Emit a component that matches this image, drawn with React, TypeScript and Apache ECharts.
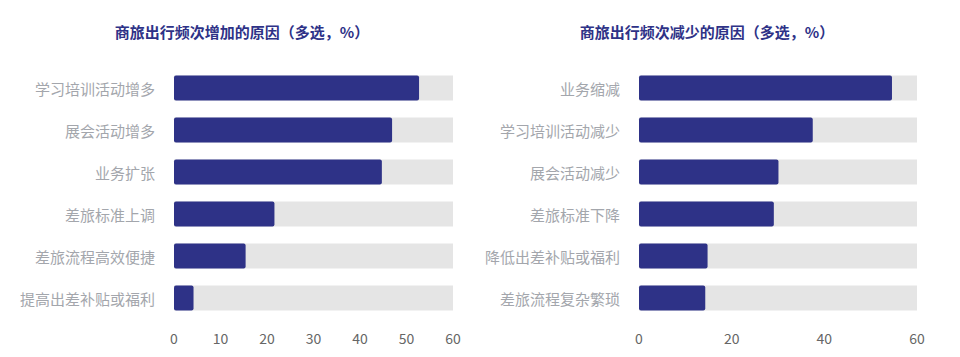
import React, { useEffect, useRef } from "react";
import * as echarts from "echarts";

const leftTitle = "商旅出行频次增加的原因（多选，%）";
const rightTitle = "商旅出行频次减少的原因（多选，%）";
const leftCategories = ["学习培训活动增多", "展会活动增多", "业务扩张", "差旅标准上调", "差旅流程高效便捷", "提高出差补贴或福利"];
const leftValues = [52.7, 46.9, 44.7, 21.6, 15.4, 4.2];
const rightCategories = ["业务缩减", "学习培训活动减少", "展会活动减少", "差旅标准下降", "降低出差补贴或福利", "差旅流程复杂繁琐"];
const rightValues = [54.6, 37.5, 30.1, 29.1, 14.8, 14.3];

const FONT = "'Noto Sans CJK SC', 'Noto Sans', sans-serif";
const BAR = "#2e3287";

export default function App() {
  const ref = useRef<HTMLDivElement>(null);
  useEffect(() => {
    document.body.style.margin = "0";
    const chart = echarts.init(ref.current!, null, { renderer: "svg" });
    const xAxisBase = (interval: number, gridIndex: number) => ({
      type: "value" as const,
      gridIndex,
      min: 0,
      max: 60,
      interval,
      axisLine: { show: false },
      axisTick: { show: false },
      splitLine: { show: false },
      axisLabel: { color: "#666666", fontSize: 14, fontFamily: FONT, margin: 12 },
    });
    const yAxisBase = (data: string[], gridIndex: number) => ({
      type: "category" as const,
      gridIndex,
      inverse: true,
      data,
      axisLine: { show: false },
      axisTick: { show: false },
      axisLabel: { color: "#a3a6ac", fontSize: 15, fontFamily: FONT, margin: 19 },
    });
    const seriesBase = (data: number[], idx: number) => ({
      type: "bar" as const,
      xAxisIndex: idx,
      yAxisIndex: idx,
      data,
      barWidth: 25,
      showBackground: true,
      backgroundStyle: { color: "#e5e5e5" },
      itemStyle: { color: BAR, borderRadius: 2 },
    });
    const titleStyle = { color: "#2e3287", fontSize: 15, fontWeight: "bold" as const, fontFamily: FONT };
    chart.setOption({
      animation: false,
      title: [
        { text: leftTitle, left: 237, top: 19, textAlign: "center", textStyle: titleStyle },
        { text: rightTitle, left: 702, top: 19, textAlign: "center", textStyle: titleStyle },
      ],
      grid: [
        { left: 174, width: 279, top: 67, height: 252 },
        { left: 639, width: 278, top: 67, height: 252 },
      ],
      xAxis: [xAxisBase(10, 0), xAxisBase(20, 1)],
      yAxis: [yAxisBase(leftCategories, 0), yAxisBase(rightCategories, 1)],
      series: [seriesBase(leftValues, 0), seriesBase(rightValues, 1)],
    });
    return () => chart.dispose();
  }, []);
  return <div ref={ref} style={{ width: 960, height: 357 }} />;
}
